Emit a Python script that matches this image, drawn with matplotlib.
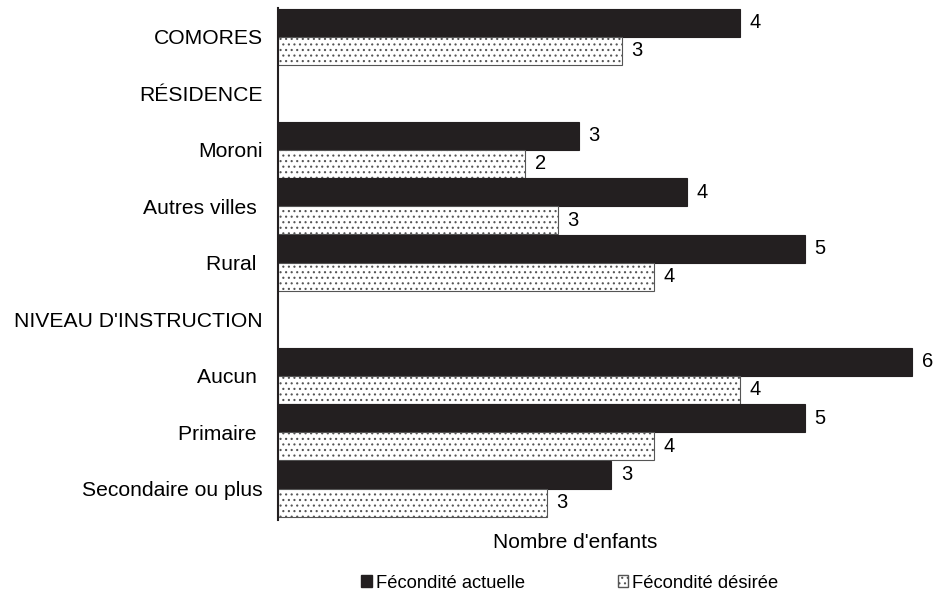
import matplotlib
matplotlib.use("Agg")
import matplotlib.pyplot as plt
from matplotlib.patches import Patch
import numpy as np

# données
categories = ["COMORES", "RÉSIDENCE", "Moroni", "Autres villes ", "Rural ",
              "NIVEAU D'INSTRUCTION", "Aucun ", "Primaire ", "Secondaire ou plus"]
actuelle = [4.3, None, 2.8, 3.8, 4.9, None, 5.9, 4.9, 3.1]
desiree = [3.2, None, 2.3, 2.6, 3.5, None, 4.3, 3.5, 2.5]
series_names = ["Fécondité actuelle", "Fécondité désirée"]

plt.rcParams['font.family'] = ['Liberation Sans', 'DejaVu Sans']
plt.rcParams['hatch.color'] = '#808080'
plt.rcParams['hatch.linewidth'] = 0.8

fs = 15.2
fig = plt.figure(figsize=(9.36, 5.99), dpi=100)
ax = fig.add_axes([278 / 936, 1 - 520 / 599, (930 - 278) / 936, (520 - 8) / 599])

y = np.arange(len(categories))
h = 0.495


def lab(v):
    return str(int(np.floor(v + 0.5)))


for i, (a, d) in enumerate(zip(actuelle, desiree)):
    if a is None:
        continue
    ax.barh(y[i] - h / 2, a, height=h, color='#231f20', edgecolor='#231f20', linewidth=0.8)
    ax.barh(y[i] + h / 2, d, height=h, color='white', edgecolor='#555555',
            hatch='...', linewidth=0.8)
    ax.text(a + 0.09, y[i] - h / 2, lab(a), va='center', ha='left', fontsize=14.5, clip_on=False)
    ax.text(d + 0.09, y[i] + h / 2, lab(d), va='center', ha='left', fontsize=14.5, clip_on=False)

ax.set_xlim(0, (930 - 278) / 107.5)
ax.set_ylim(8.55, -0.51)
ax.set_yticks(y)
ax.set_yticklabels(categories, fontsize=fs)
ax.tick_params(axis='y', length=0, pad=11)
ax.set_xticks([])
for s in ['top', 'right', 'bottom']:
    ax.spines[s].set_visible(False)
ax.spines['left'].set_linewidth(1.5)
ax.spines['left'].set_color('#231f20')

ax.set_xlabel("Nombre d'enfants", fontsize=15)
ax.xaxis.set_label_coords((575 - 278) / 652, -0.025)
ax.xaxis.label.set_va('top')

handles = [Patch(facecolor='#231f20', edgecolor='#231f20'),
           Patch(facecolor='white', edgecolor='#555555', hatch='...')]
fig.legend(handles, series_names, loc='center', bbox_to_anchor=(570 / 936, 1 - 583 / 599),
           ncol=2, frameon=False, fontsize=13.2, handlelength=0.55, handleheight=0.55,
           handletextpad=0.22, columnspacing=5.1)

fig.savefig("out.png", dpi=100)
